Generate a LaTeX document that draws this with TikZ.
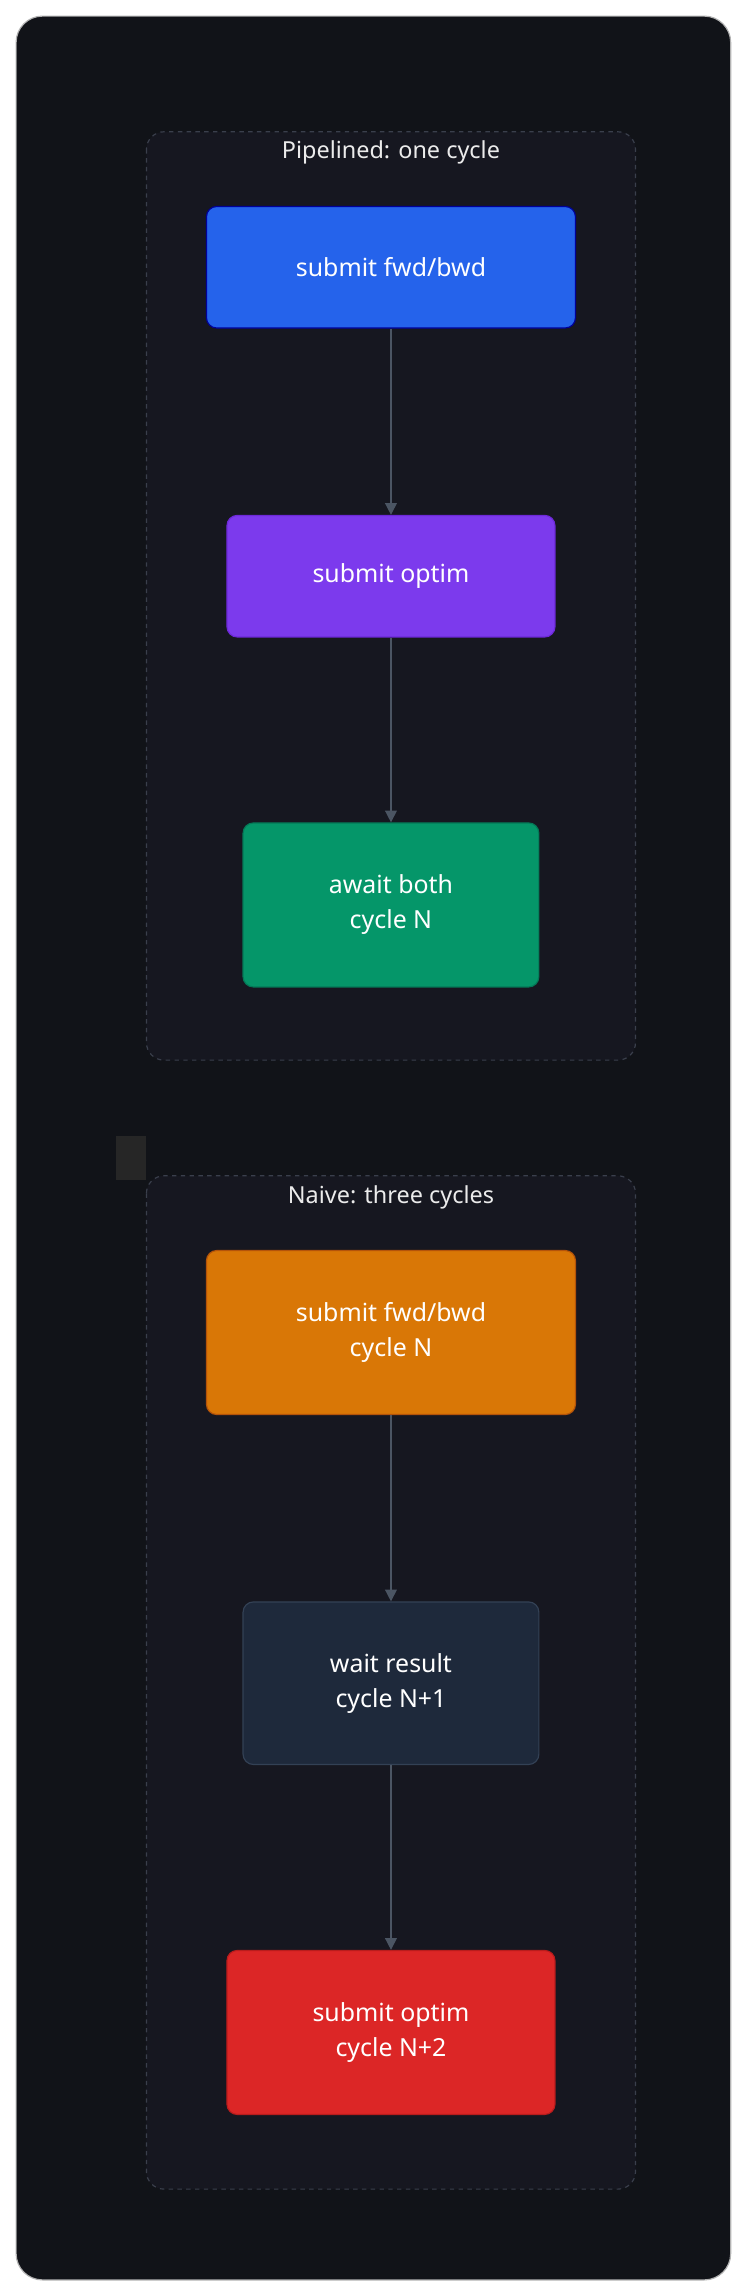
\documentclass[tikz,border=0pt]{standalone}
\usepackage{fontspec}
\setmainfont{Noto Sans}
\usetikzlibrary{arrows.meta}
\definecolor{bg}{HTML}{111318}
\definecolor{clus}{HTML}{161720}
\definecolor{clusb}{HTML}{3A3F4C}
\definecolor{edge}{HTML}{4B5563}
\begin{document}
\begin{tikzpicture}[x=1pt,y=-1pt,
  box/.style={draw, rounded corners=7pt, line width=0.8pt, text=white, align=center,
    font=\fontsize{17}{24}\selectfont, inner sep=0pt},
  cluster/.style={draw=clusb, dashed, fill=clus, rounded corners=12pt, line width=0.8pt},
  ctitle/.style={text=white!92!black, font=\bfseries\fontsize{16}{20}\selectfont},
  arr/.style={draw=edge, line width=1pt, -{Triangle[length=8pt,width=8pt]}}]
\useasboundingbox (0,0) rectangle (512,1568);
\fill[white] (0,0) rectangle (512,1568);
\draw[draw=gray!60, fill=bg, rounded corners=18pt, line width=0.8pt] (11,11) rectangle (499,1557);
\draw[cluster] (100,90) rectangle (434,724);
\node[ctitle] (t1) at (267,104) {Pipelined: one cycle};
\draw[cluster] (100,803) rectangle (434,1495);
\node[ctitle] (t2) at (267,818) {Naive: three cycles};
\fill[black!85] (79,776) rectangle (100,806);
\node[box, fill=blue!70!cyan!80!black, draw=blue!60!black, fill={rgb,255:red,37;green,99;blue,235}, minimum width=252pt, minimum height=83pt] (n1) at (267,182.5) {submit fwd/bwd};
\node[box, fill={rgb,255:red,124;green,58;blue,237}, draw={rgb,255:red,109;green,40;blue,217}, minimum width=224pt, minimum height=83pt] (n2) at (267,393.5) {submit optim};
\node[box, fill={rgb,255:red,5;green,150;blue,105}, draw={rgb,255:red,4;green,120;blue,87}, minimum width=202pt, minimum height=112pt] (n3) at (267,618) {await both\\cycle N};
\node[box, fill={rgb,255:red,217;green,119;blue,6}, draw={rgb,255:red,180;green,83;blue,9}, minimum width=252pt, minimum height=112pt] (n4) at (267,910) {submit fwd/bwd\\cycle N};
\node[box, fill={rgb,255:red,30;green,41;blue,59}, draw={rgb,255:red,51;green,65;blue,85}, minimum width=202pt, minimum height=111pt] (n5) at (267,1149.5) {wait result\\cycle N+1};
\node[box, fill={rgb,255:red,220;green,38;blue,38}, draw={rgb,255:red,185;green,28;blue,28}, minimum width=224pt, minimum height=112pt] (n6) at (267,1388) {submit optim\\cycle N+2};
\draw[arr] (n1) -- (n2);
\draw[arr] (n2) -- (n3);
\draw[arr] (n4) -- (n5);
\draw[arr] (n5) -- (n6);
\end{tikzpicture}
\end{document}
